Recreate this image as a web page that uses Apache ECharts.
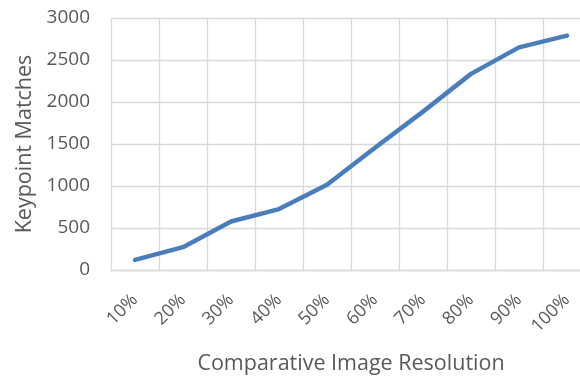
<!DOCTYPE html>
<html>
<head>
<meta charset="utf-8">
<script src="https://cdn.jsdelivr.net/npm/echarts@6/dist/echarts.min.js"></script>
<style>
  html, body { margin: 0; padding: 0; background: #fff; }
  #chart { width: 580px; height: 379px; }
</style>
</head>
<body>
<div id="chart"></div>
<script>
// Resolution steps on the x axis
const resolutions = ['10%', '20%', '30%', '40%', '50%', '60%', '70%', '80%', '90%', '100%'];
// Number of keypoint matches found at each resolution
const matches = [120, 272, 578, 725, 1015, 1455, 1885, 2335, 2650, 2790];
// Value axis range
const yMin = 0, yMax = 3000, yStep = 500;

const textColor = '#595959';
const gridColor = '#d9d9d9';
const fontFamily = 'Open Sans, sans-serif';

const chart = echarts.init(document.getElementById('chart'), null, { renderer: 'canvas' });
chart.setOption({
  animation: false,
  backgroundColor: '#ffffff',
  // plot area runs slightly past the right edge of the canvas
  grid: { left: 111, width: 480, top: 18, height: 252, containLabel: false, outerBoundsMode: 'none' },
  xAxis: {
    type: 'category',
    data: resolutions,
    boundaryGap: true,
    name: 'Comparative Image Resolution',
    nameLocation: 'middle',
    nameGap: 83,
    nameTextStyle: { color: textColor, fontSize: 21.5, fontFamily },
    axisLine: { show: true, lineStyle: { color: gridColor, width: 1.3 } },
    axisTick: { show: false },
    axisLabel: { color: textColor, fontSize: 18, fontFamily, rotate: 45, margin: 27, interval: 0 },
    splitLine: { show: true, interval: 0, lineStyle: { color: gridColor, width: 1.3 } }
  },
  yAxis: {
    type: 'value',
    min: yMin, max: yMax, interval: yStep,
    name: 'Keypoint Matches',
    nameLocation: 'middle',
    nameGap: 75,
    nameTextStyle: { color: textColor, fontSize: 21.5, fontFamily },
    axisLine: { show: false },
    axisTick: { show: false },
    axisLabel: { color: textColor, fontSize: 19, fontFamily, margin: 21, formatter: v => String(v) },
    splitLine: { show: true, lineStyle: { color: gridColor, width: 1.3 } }
  },
  series: [{
    type: 'line',
    data: matches,
    showSymbol: false,
    symbol: 'none',
    lineStyle: { color: '#4a7ebb', width: 4.5, cap: 'round', join: 'round' }
  }]
});
</script>
</body>
</html>
